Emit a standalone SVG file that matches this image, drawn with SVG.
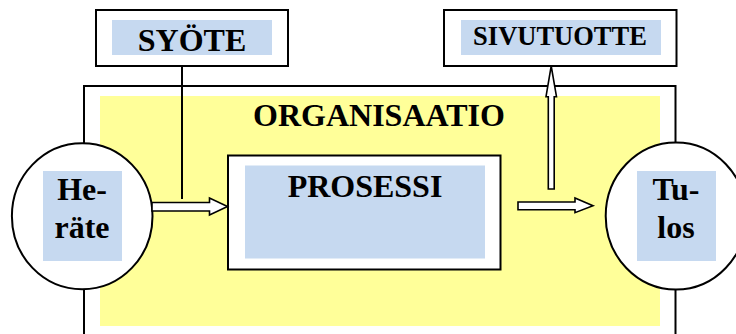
<svg xmlns="http://www.w3.org/2000/svg" width="736" height="334" viewBox="0 0 736 334">
<style>
.box{fill:#fff;stroke:#000;stroke-width:2}
.lbl{fill:#C6D9F0}
.t{font-family:"Liberation Serif","Times New Roman",serif;font-weight:bold;fill:#000;text-anchor:middle}
.arr{fill:#fff;stroke:#000;stroke-width:1.6;stroke-linejoin:miter}
.ln{stroke:#000;stroke-width:2;fill:none}
</style>
<rect width="736" height="334" fill="#fff"/>
<g id="organisaatio">
<rect class="box" x="84" y="86" width="591.5" height="260"/>
<rect x="100" y="96" width="560" height="230" fill="#FFFF99"/>
<text class="t" x="379" y="126" font-size="32">ORGANISAATIO</text>
</g>
<g id="syote">
<rect class="box" x="96" y="10" width="192" height="56"/>
<rect class="lbl" x="112" y="20" width="160" height="35"/>
<text class="t" x="192" y="51" font-size="32">SYÖTE</text>
</g>
<g id="sivutuotte">
<rect class="box" x="444" y="10" width="232.5" height="56"/>
<rect class="lbl" x="461" y="20" width="200" height="35"/>
<text class="t" x="560" y="45" font-size="26.5">SIVUTUOTTE</text>
</g>
<g id="prosessi">
<rect class="box" x="228" y="155.5" width="272.5" height="114"/>
<rect class="lbl" x="245" y="165.5" width="240" height="93"/>
<text class="t" x="365" y="196.5" font-size="32">PROSESSI</text>
</g>
<g id="herate">
<ellipse class="box" cx="82.2" cy="216.3" rx="70.3" ry="73"/>
<rect class="lbl" x="43" y="171" width="79" height="90"/>
<text class="t" x="82" y="200" font-size="32">He-</text>
<text class="t" x="82" y="238" font-size="32">räte</text>
</g>
<g id="tulos">
<ellipse class="box" cx="676" cy="216" rx="70.3" ry="73.5"/>
<rect class="lbl" x="637" y="171" width="79" height="90"/>
<text class="t" x="676" y="200" font-size="32">Tu-</text>
<text class="t" x="676" y="238" font-size="32">los</text>
</g>
<g id="connectors">
<line class="ln" x1="182" y1="66" x2="182" y2="199"/>
<polygon class="arr" points="152,202.5 209.5,202.5 209.5,198 227.5,206.5 209.5,215 209.5,211 152,211"/>
<polygon class="arr" points="518,202 575,202 575,198 593,205.7 575,212.7 575,209.7 518,209.7"/>
<polygon class="arr" points="548.3,189 548.3,96.7 546,96.7 551.2,66 556.5,96.7 554.2,96.7 554.2,189"/>
</g>
</svg>
